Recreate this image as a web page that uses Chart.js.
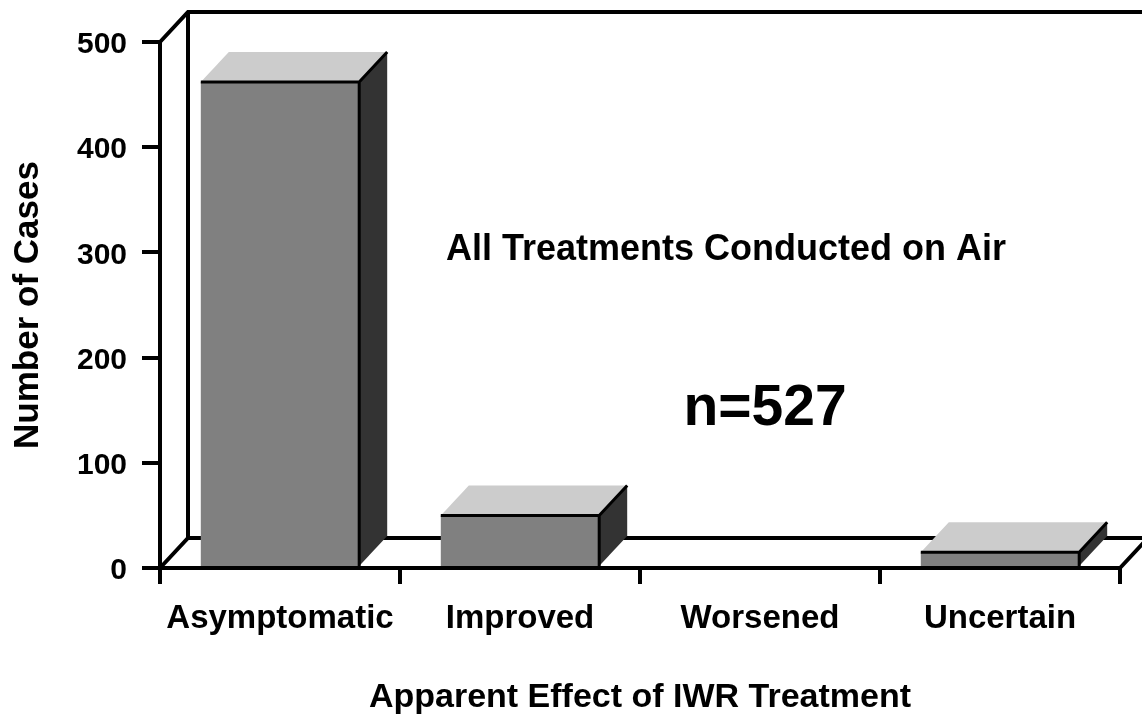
<!DOCTYPE html>
<html>
<head>
<meta charset="utf-8">
<script src="https://cdn.jsdelivr.net/npm/chart.js@4.4.1/dist/chart.umd.min.js"></script>
<style>
  html, body { margin: 0; padding: 0; background: #ffffff; }
  canvas { display: block; }
</style>
</head>
<body>
<canvas id="grafico" width="1142" height="715"></canvas>
<script>
// Gráfico de barras "3D" al estilo de las diapositivas viejas: las caras
// frontales las dibuja Chart.js, el fondo y las caras de arriba/costado
// se agregan con un plugin a partir de las posiciones de las barras.

const CATEGORIAS = ["Asymptomatic", "Improved", "Worsened", "Uncertain"];
const CASOS = [462, 50, 0, 15];
const TICKS_Y = [0, 100, 200, 300, 400, 500];

const TITULO_X = "Apparent Effect of IWR Treatment";
const TITULO_Y = "Number of Cases";
const NOTA = "All Treatments Conducted on Air";
const TOTAL = "n=527";

const FUENTE = "'Liberation Sans', Arial, Helvetica, sans-serif";
const PROF = { dx: 28, dy: -30 }; // profundidad de la perspectiva

const COLOR_FRENTE = "#808080";
const COLOR_TAPA = "#cccccc";
const COLOR_LADO = "#333333";

const caja3d = {
  id: "caja3d",
  beforeDatasetsDraw(chart) {
    const { ctx, chartArea: a, width } = chart;
    const bx = a.left + PROF.dx;
    const top = a.top + PROF.dy;
    const fondo = a.bottom + PROF.dy;
    ctx.save();
    ctx.strokeStyle = "#000";
    ctx.lineWidth = 4;
    ctx.beginPath();
    // pared del fondo y piso
    ctx.moveTo(a.left, a.top); ctx.lineTo(bx, top);
    ctx.lineTo(width, top);
    ctx.moveTo(bx, top); ctx.lineTo(bx, fondo);
    ctx.moveTo(a.left, a.bottom); ctx.lineTo(bx, fondo);
    ctx.lineTo(width, fondo);
    ctx.moveTo(a.right, a.bottom); ctx.lineTo(a.right + PROF.dx, fondo);
    ctx.stroke();
    ctx.restore();
  },
  afterDatasetsDraw(chart) {
    const { ctx } = chart;
    const meta = chart.getDatasetMeta(0);
    ctx.save();
    meta.data.forEach((barra) => {
      const { x, y, base, width } = barra.getProps(["x", "y", "base", "width"], true);
      if (Math.abs(base - y) < 0.5) return;
      const izq = x - width / 2, der = x + width / 2;
      // tapa
      ctx.fillStyle = COLOR_TAPA;
      ctx.beginPath();
      ctx.moveTo(izq, y);
      ctx.lineTo(izq + PROF.dx, y + PROF.dy);
      ctx.lineTo(der + PROF.dx, y + PROF.dy);
      ctx.lineTo(der, y);
      ctx.closePath();
      ctx.fill();
      // costado
      ctx.fillStyle = COLOR_LADO;
      ctx.beginPath();
      ctx.moveTo(der, y);
      ctx.lineTo(der + PROF.dx, y + PROF.dy);
      ctx.lineTo(der + PROF.dx, base + PROF.dy);
      ctx.lineTo(der, base);
      ctx.closePath();
      ctx.fill();
      // aristas
      ctx.strokeStyle = "#000";
      ctx.lineWidth = 3;
      ctx.beginPath();
      ctx.moveTo(izq, y); ctx.lineTo(der, y);
      ctx.lineTo(der, base);
      ctx.moveTo(der, y); ctx.lineTo(der + PROF.dx, y + PROF.dy);
      ctx.stroke();
    });
    ctx.restore();
  },
  afterDraw(chart) {
    const { ctx, chartArea: a } = chart;
    ctx.save();
    ctx.fillStyle = "#000";
    ctx.textAlign = "center";
    ctx.textBaseline = "middle";
    ctx.font = `bold 36px ${FUENTE}`;
    ctx.fillText(NOTA, a.left + 566, a.top + 208);
    ctx.font = `bold 57px ${FUENTE}`;
    ctx.fillText(TOTAL, a.left + 605, a.top + 367);
    ctx.restore();
  },
};

new Chart(document.getElementById("grafico"), {
  type: "bar",
  data: {
    labels: CATEGORIAS,
    datasets: [{
      label: TITULO_Y,
      data: CASOS,
      backgroundColor: COLOR_FRENTE,
      borderWidth: 0,
      categoryPercentage: 1,
      barPercentage: 0.66,
    }],
  },
  options: {
    responsive: false,
    animation: false,
    devicePixelRatio: 1,
    layout: { padding: { top: 42, right: 22, left: 0, bottom: 0 } },
    plugins: { legend: { display: false }, tooltip: { enabled: false } },
    scales: {
      x: {
        grid: { offset: true, drawOnChartArea: false, tickLength: 16, lineWidth: 4, color: "#000" },
        border: { display: true, color: "#000", width: 4 },
        ticks: { color: "#000", padding: 15, font: { family: FUENTE, size: 33, weight: "bold" } },
        title: {
          display: true, text: TITULO_X, color: "#000", padding: 0,
          font: { family: FUENTE, size: 34, weight: "bold", lineHeight: 1 },
        },
        afterFit(scale) { scale.height = 147; },
      },
      y: {
        min: TICKS_Y[0],
        max: TICKS_Y[TICKS_Y.length - 1],
        grid: { drawOnChartArea: false, tickLength: 18, lineWidth: 4, color: "#000" },
        border: { display: true, color: "#000", width: 4 },
        ticks: {
          stepSize: TICKS_Y[1] - TICKS_Y[0],
          color: "#000", padding: 15, labelOffset: 3,
          font: { family: FUENTE, size: 30, weight: "bold" },
        },
        title: {
          display: true, text: TITULO_Y, color: "#000", padding: { top: 7, bottom: 0 },
          font: { family: FUENTE, size: 35, weight: "bold" },
        },
        afterFit(scale) { scale.width = 160; },
      },
    },
  },
  plugins: [caja3d],
});
</script>
</body>
</html>
